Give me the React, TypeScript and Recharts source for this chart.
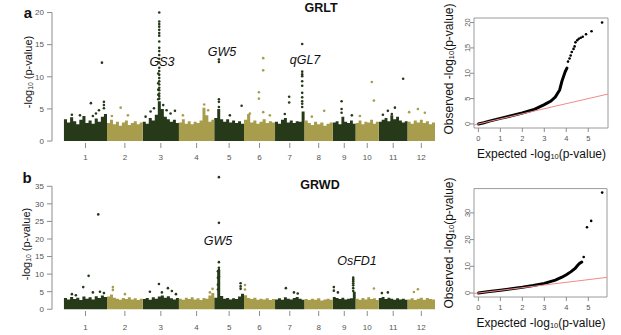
import React from 'react'
import { Area, ComposedChart, Line, ReferenceArea, ReferenceLine, Scatter, XAxis, YAxis } from 'recharts'

const DARK = '#263a1a'
const OLIVE = '#a89d4c'
const AXIS = '#8c8c8c'
const FONT = '"Liberation Sans", Arial, sans-serif'

const chromosomes = ['1', '2', '3', '4', '5', '6', '7', '8', '9', '10', '11', '12']
// rice chromosome lengths, Mb
const chrLengths = [43.3, 35.9, 36.4, 35.5, 29.9, 31.2, 29.7, 28.4, 23.0, 23.2, 29.0, 27.5]

// top of the dense band of markers, per chromosome (GRLT)
const grltTops = [
  [3.4, 2.9, 3.7, 3.1, 2.6, 3.3, 3.9, 2.8, 3.2, 2.7, 3.5, 3.0, 3.8, 4.2],
  [2.8, 3.3, 2.6, 3.0, 2.4, 2.9, 3.2, 2.5, 2.8, 3.1, 2.6, 2.9],
  [3.0, 2.7, 3.6, 3.2, 4.1, 6.2, 5.0, 3.8, 3.4, 3.0, 3.3, 2.8],
  [2.9, 3.4, 2.7, 3.1, 2.6, 3.0, 2.8, 3.2, 5.2, 4.0, 3.0, 3.3],
  [3.6, 5.0, 3.4, 3.0, 3.4, 2.9, 3.2, 2.8, 3.1, 2.7],
  [3.3, 4.2, 2.9, 3.2, 2.7, 3.0, 3.4, 2.8, 3.1, 2.9],
  [3.0, 2.7, 3.3, 3.6, 2.9, 3.2, 2.8, 3.1, 3.0, 4.6],
  [3.2, 2.8, 2.5, 3.0, 2.6, 2.9, 2.4, 2.7, 2.9],
  [2.9, 3.1, 2.6, 3.8, 3.0, 2.8, 3.2, 2.7],
  [2.8, 3.2, 2.6, 3.0, 2.9, 3.3, 2.7, 3.0],
  [3.0, 3.3, 3.6, 3.1, 4.0, 3.4, 3.8, 3.2, 2.9, 3.1],
  [3.0, 2.7, 3.2, 2.9, 3.3, 2.8, 3.1, 2.6, 2.9],
]

// top of the dense band of markers, per chromosome (GRWD)
const grwdTops = [
  [3.2, 2.8, 3.5, 2.9, 3.3, 2.6, 3.6, 3.0, 3.4, 2.8, 3.7, 3.2, 3.9, 3.5],
  [3.6, 4.2, 3.3, 3.0, 2.7, 3.2, 2.9, 3.4, 2.8, 3.1, 2.6, 3.0],
  [2.9, 3.2, 2.7, 3.4, 3.0, 3.6, 3.9, 3.3, 3.7, 3.1, 2.8, 3.2],
  [3.0, 2.7, 3.3, 2.9, 3.4, 2.8, 3.1, 2.6, 3.2, 3.0, 3.9, 4.6],
  [3.3, 11.2, 3.8, 3.0, 3.2, 2.8, 3.1, 2.9, 3.6, 4.4],
  [4.0, 3.2, 2.9, 3.3, 2.7, 3.0, 2.8, 3.1, 2.6, 2.9],
  [2.8, 3.1, 2.7, 3.4, 3.0, 2.8, 3.2, 3.5, 3.0, 2.7],
  [2.9, 2.6, 3.0, 2.7, 3.1, 2.5, 2.8, 3.0, 2.7],
  [3.5, 3.2, 2.9, 3.3, 2.8, 3.0, 3.1, 5.0],
  [3.0, 2.7, 3.2, 2.8, 3.4, 2.9, 3.1, 2.6],
  [3.2, 3.5, 2.9, 3.3, 3.0, 2.7, 3.1, 2.8, 3.0, 2.7],
  [2.8, 3.1, 2.6, 3.0, 3.3, 2.7, 3.2, 2.9, 2.8],
]

// [chromosome, position within chromosome (Mb), -log10 p]
const grltPeaks: [number, number, number][] = [
  [1, 38.2, 12.2], [1, 27.1, 5.9], [1, 35.2, 4.8], [1, 40.2, 6.1], [1, 40.2, 5.6], [1, 40.2, 5.1],
  [1, 29.1, 3.9], [1, 32.2, 4.3], [1, 16.1, 4.0], [1, 8.0, 4.1],
  [2, 13.7, 5.2], [2, 21.0, 4.0], [2, 4.9, 3.9],
  [3, 16.6, 20.0], [3, 16.6, 18.6], [3, 16.6, 18.2], [3, 16.6, 17.8], [3, 16.6, 17.3], [3, 16.6, 16.8],
  [3, 16.6, 16.4], [3, 16.6, 15.5], [3, 16.6, 14.5], [3, 16.6, 14.0], [3, 16.6, 13.4], [3, 16.6, 12.8],
  [3, 16.6, 12.2], [3, 16.6, 11.4], [3, 16.6, 10.9], [3, 16.6, 10.3], [3, 16.6, 9.8], [3, 16.6, 9.3],
  [3, 16.6, 8.8], [3, 16.6, 8.3], [3, 16.6, 7.9], [3, 16.6, 7.4], [3, 16.6, 7.0], [3, 16.6, 6.6],
  [3, 15.6, 10.5], [3, 15.6, 9.0], [3, 15.6, 8.0], [3, 15.6, 7.2], [3, 15.6, 6.5],
  [3, 2.9, 3.8], [3, 7.9, 4.6], [3, 11.3, 5.1], [3, 20.6, 5.6], [3, 24.0, 4.8], [3, 28.0, 4.3], [3, 32.4, 4.7],
  [4, 4.0, 4.0], [4, 25.4, 5.7], [4, 29.4, 4.8],
  [5, 4.7, 12.7], [5, 4.7, 12.3], [5, 4.7, 6.5], [5, 4.7, 6.1], [5, 4.7, 5.3], [5, 27.5, 5.5], [5, 15.7, 4.0],
  [6, 19.3, 12.9], [6, 19.3, 11.0], [6, 19.3, 4.5], [6, 15.0, 7.6], [6, 15.0, 6.6], [6, 26.0, 4.0], [6, 5.9, 4.3],
  [7, 14.2, 6.9], [7, 14.2, 6.0], [7, 27.3, 15.1], [7, 27.3, 10.8], [7, 27.3, 10.4], [7, 27.3, 10.1],
  [7, 27.3, 9.3], [7, 27.3, 8.6], [7, 27.3, 7.5], [7, 27.3, 6.8], [7, 27.3, 6.2], [7, 27.3, 5.8], [7, 27.3, 5.3],
  [7, 9.8, 4.2],
  [8, 19.7, 4.7], [8, 7.3, 3.8],
  [9, 8.8, 6.2], [9, 8.8, 5.0], [9, 8.8, 4.4], [9, 19.1, 4.0],
  [10, 16.2, 9.2], [10, 18.3, 6.3], [10, 4.2, 3.9],
  [11, 24.5, 9.7], [11, 9.1, 4.7], [11, 13.1, 4.2], [11, 16.2, 5.2], [11, 4.1, 4.1],
  [12, 10.3, 5.0], [12, 1.5, 4.5], [12, 17.3, 4.4],
]

const grwdPeaks: [number, number, number][] = [
  [1, 34.5, 27.0], [1, 24.8, 9.5], [1, 19.4, 6.3], [1, 29.1, 4.8], [1, 36.2, 5.0], [1, 40.2, 4.6],
  [1, 8.0, 4.3], [1, 12.0, 4.0],
  [2, 5.9, 6.3], [2, 5.9, 5.5], [2, 18.0, 4.3],
  [3, 16.3, 7.2], [3, 25.3, 6.0], [3, 7.2, 5.0], [3, 19.3, 4.8], [3, 29.3, 5.2], [3, 33.4, 4.3],
  [4, 33.8, 5.8], [4, 31.1, 4.8],
  [5, 4.7, 37.6], [5, 4.7, 24.6], [5, 4.7, 13.4], [5, 4.7, 11.8], [5, 4.7, 11.2], [5, 4.7, 10.6],
  [5, 4.7, 10.0], [5, 4.7, 9.4], [5, 3.7, 10.8], [5, 3.7, 9.0], [5, 3.7, 7.0], [5, 3.7, 5.6],
  [5, 26.5, 7.4], [5, 26.5, 6.5], [5, 26.5, 5.8],
  [6, 1.0, 6.9], [6, 1.0, 5.6],
  [7, 10.9, 6.0], [7, 19.0, 4.8], [7, 22.8, 4.5],
  [9, 1.0, 6.3], [9, 1.0, 5.3], [9, 20.5, 9.0], [9, 20.5, 8.5], [9, 20.5, 8.0], [9, 20.5, 7.4],
  [9, 20.5, 6.8], [9, 20.5, 6.0], [9, 20.5, 5.2], [9, 5.1, 4.8],
  [10, 18.3, 5.9],
  [11, 3.1, 4.6], [11, 9.1, 4.8],
  [12, 6.3, 4.9], [12, 10.3, 5.7],
]

// QQ plots: expected vs observed -log10(p)
const grltQqExpected = [0, 0.25, 0.5, 1, 1.5, 2, 2.5, 3, 3.3, 3.5, 3.7, 3.8, 3.95, 4.03]
const grltQqObserved = [0, 0.25, 0.55, 1.1, 1.6, 2.15, 2.8, 3.8, 4.5, 5.3, 6.7, 8.4, 10.3, 11.0]
const grltTailExpected = [4.08, 4.15, 4.2, 4.25, 4.33, 4.38, 4.42, 4.5, 4.57, 4.66, 4.75, 4.9, 5.15, 5.63]
const grltTailObserved = [12.3, 12.9, 13.5, 14.2, 14.8, 15.3, 16.1, 16.5, 16.8, 17.0, 17.2, 17.7, 18.3, 20.0]

const grwdQqExpected = [0, 0.5, 1, 1.5, 2, 2.5, 3, 3.5, 3.8, 4.0, 4.2, 4.4, 4.5, 4.6, 4.7]
const grwdQqObserved = [0, 0.55, 1.05, 1.6, 2.15, 2.8, 3.6, 4.8, 5.9, 6.8, 7.9, 9.2, 10.2, 11.1, 11.6]
const grwdTailExpected = [4.79, 4.94, 5.13, 5.63]
const grwdTailObserved = [13.5, 24.6, 27.0, 37.6]

const chrStarts = chrLengths.map((_, i) => chrLengths.slice(0, i).reduce((s, v) => s + v, 0))
const chrMids = chrStarts.map((s, i) => s + chrLengths[i] / 2)
const genomeEnd = chrStarts[11] + chrLengths[11]

function blockRows(tops: number[][]) {
  const rows: { x: number; dark: number | null; light: number | null }[] = []
  tops.forEach((t, c) => {
    const dark = c % 2 === 0
    const n = t.length
    const push = (x: number, v: number) => rows.push({ x, dark: dark ? v : null, light: dark ? null : v })
    t.forEach((v, i) => push(chrStarts[c] + (chrLengths[c] * i) / n, v))
    push(chrStarts[c] + chrLengths[c], t[n - 1])
  })
  return rows
}

function peakPoints(peaks: [number, number, number][], dark: boolean) {
  return peaks
    .filter(([c]) => (c % 2 === 1) === dark)
    .map(([c, pos, v]) => ({ x: chrStarts[c - 1] + pos, y: v }))
}

const SmallDot = (props: any) => <circle cx={props.cx} cy={props.cy} r={1.3} fill={props.fill} />

const RotTick = (props: any) => {
  const { x, y, payload } = props
  return (
    <text x={x} y={y} transform={`rotate(-90, ${x}, ${y})`} textAnchor='middle' fontSize={7.5} fill='#555' fontFamily={FONT}>
      {payload.value}
    </text>
  )
}

function Label({ x, y, size, bold, italic, rotate, children }: any) {
  return (
    <div
      style={{
        position: 'absolute', left: x, top: y,
        transform: `translate(-50%, -50%)${rotate ? ' rotate(-90deg)' : ''}`,
        fontFamily: FONT, fontSize: size, fontWeight: bold ? 700 : 400,
        fontStyle: italic ? 'italic' : 'normal', whiteSpace: 'nowrap', lineHeight: 1, color: '#111',
      }}
    >
      {children}
    </div>
  )
}

const Sub = ({ children }: any) => (
  <span style={{ fontSize: '0.62em', verticalAlign: '-0.15em' }}>{children}</span>
)

function Manhattan({ tops, peaks, top, height, marginTop, xHeight, yMin, yMax, yTicks, tickMargin }: any) {
  const yTop = yTicks[yTicks.length - 1]
  return (
    <div style={{ position: 'absolute', left: 0, top }}>
      <ComposedChart width={440} height={height} data={blockRows(tops)} margin={{ top: marginTop, right: 5, bottom: 0, left: 0 }}>
        <XAxis
          type='number'
          dataKey='x'
          domain={[-12, genomeEnd]}
          ticks={chrMids}
          interval={0}
          tickFormatter={(v) => chromosomes[chrMids.indexOf(v)]}
          axisLine={false}
          tickLine={{ stroke: AXIS }}
          tickSize={5}
          tickMargin={tickMargin}
          height={xHeight}
          tick={{ fontSize: 8, fill: '#555', fontFamily: FONT }}
          allowDataOverflow
        />
        <YAxis
          type='number'
          domain={[yMin, yMax]}
          ticks={yTicks}
          interval={0}
          axisLine={false}
          tickLine={{ stroke: AXIS }}
          tickSize={5}
          tickMargin={3}
          width={52}
          tick={{ fontSize: 8, fill: '#555', fontFamily: FONT }}
          allowDataOverflow
        />
        <ReferenceLine segment={[{ x: -12, y: 0 }, { x: -12, y: yTop }]} stroke={AXIS} />
        <Area type='stepAfter' dataKey='dark' fill={DARK} fillOpacity={1} stroke='none' baseValue={0} isAnimationActive={false} />
        <Area type='stepAfter' dataKey='light' fill={OLIVE} fillOpacity={1} stroke='none' baseValue={0} isAnimationActive={false} />
        <Scatter data={peakPoints(peaks, false)} dataKey='y' fill={OLIVE} shape={SmallDot} isAnimationActive={false} />
        <Scatter data={peakPoints(peaks, true)} dataKey='y' fill={DARK} shape={SmallDot} isAnimationActive={false} />
      </ComposedChart>
    </div>
  )
}

function QQ({ expected, observed, tailExp, tailObs, top, height, marginTop, marginRight, xHeight, xMax, yMin, yMax, yTicks }: any) {
  const curve = expected.map((e: number, i: number) => ({ x: e, y: observed[i] }))
  const tail = tailExp.map((e: number, i: number) => ({ x: e, y: tailObs[i] }))
  const xMin = -0.2
  return (
    <div style={{ position: 'absolute', left: 440, top }}>
      <ComposedChart width={181} height={height} data={curve} margin={{ top: marginTop, right: marginRight, bottom: 0, left: 0 }}>
        <XAxis
          type='number'
          dataKey='x'
          domain={[xMin, xMax]}
          ticks={[0, 1, 2, 3, 4, 5]}
          interval={0}
          axisLine={false}
          tickLine={{ stroke: AXIS }}
          tickSize={4}
          tickMargin={4}
          height={xHeight}
          tick={{ fontSize: 7.5, fill: '#555', fontFamily: FONT }}
          allowDataOverflow
        />
        <YAxis
          type='number'
          domain={[yMin, yMax]}
          ticks={yTicks}
          interval={0}
          axisLine={false}
          tickLine={{ stroke: AXIS }}
          tickSize={4}
          tickMargin={0}
          width={34}
          tick={<RotTick />}
          allowDataOverflow
        />
        <ReferenceArea x1={xMin} x2={xMax} y1={yMin} y2={yMax} fill='none' stroke='#9a9a9a' strokeWidth={1} />
        <Line type='linear' dataKey='y' stroke='#000' strokeWidth={3} strokeLinecap='round' dot={false} isAnimationActive={false} />
        <Scatter data={tail} dataKey='y' fill='#000' shape={SmallDot} isAnimationActive={false} />
        <ReferenceLine segment={[{ x: xMin, y: xMin }, { x: xMax, y: xMax }]} stroke='#f08a8a' strokeWidth={1} />
      </ComposedChart>
    </div>
  )
}

export default function App() {
  return (
    <div style={{ position: 'absolute', left: 0, top: 0, width: 621, height: 335, background: '#fff', overflow: 'hidden' }}>
      <Manhattan
        tops={grltTops}
        peaks={grltPeaks}
        top={0}
        height={165}
        marginTop={9.3}
        xHeight={22}
        yMin={-0.3}
        yMax={20.5}
        yTicks={[0, 5, 10, 15, 20]}
        tickMargin={6}
      />
      <Manhattan
        tops={grwdTops}
        peaks={grwdPeaks}
        top={165}
        height={170}
        marginTop={9}
        xHeight={24}
        yMin={-0.5}
        yMax={38.5}
        yTicks={[0, 5, 10, 15, 20, 25, 30, 35]}
        tickMargin={8}
      />
      <QQ
        expected={grltQqExpected}
        observed={grltQqObserved}
        tailExp={grltTailExpected}
        tailObs={grltTailObserved}
        top={0}
        height={165}
        marginTop={18}
        marginRight={13}
        xHeight={37}
        xMax={5.9}
        yMin={-0.8}
        yMax={20.9}
        yTicks={[0, 5, 10, 15, 20]}
      />
      <QQ
        expected={grwdQqExpected}
        observed={grwdQqObserved}
        tailExp={grwdTailExpected}
        tailObs={grwdTailObserved}
        top={165}
        height={170}
        marginTop={23.6}
        marginRight={14}
        xHeight={38}
        xMax={5.85}
        yMin={-1.5}
        yMax={39.1}
        yTicks={[0, 10, 20, 30]}
      />

      <Label x={28} y={12} size={15} bold>a</Label>
      <Label x={27} y={177} size={15} bold>b</Label>
      <Label x={321} y={8} size={12.5} bold>GRLT</Label>
      <Label x={320} y={185} size={12.5} bold>GRWD</Label>
      <Label x={29} y={72} size={11} rotate>-log<Sub>10</Sub> (p-value)</Label>
      <Label x={27} y={244} size={11} rotate>-log<Sub>10</Sub> (p-value)</Label>
      <Label x={162} y={62} size={12.5} italic>GS3</Label>
      <Label x={222} y={52} size={12.5} italic>GW5</Label>
      <Label x={305} y={60} size={12.5} italic>qGL7</Label>
      <Label x={218} y={241} size={12.5} italic>GW5</Label>
      <Label x={357} y={261} size={12.5} italic>OsFD1</Label>
      <Label x={449} y={69} size={12} rotate>Observed -log<Sub>10</Sub>(p-value)</Label>
      <Label x={449} y={243} size={12} rotate>Observed -log<Sub>10</Sub>(p-value)</Label>
      <Label x={541.5} y={154} size={12}>Expected -log<Sub>10</Sub>(p-value)</Label>
      <Label x={541} y={323} size={12}>Expected -log<Sub>10</Sub>(p-value)</Label>
    </div>
  )
}
